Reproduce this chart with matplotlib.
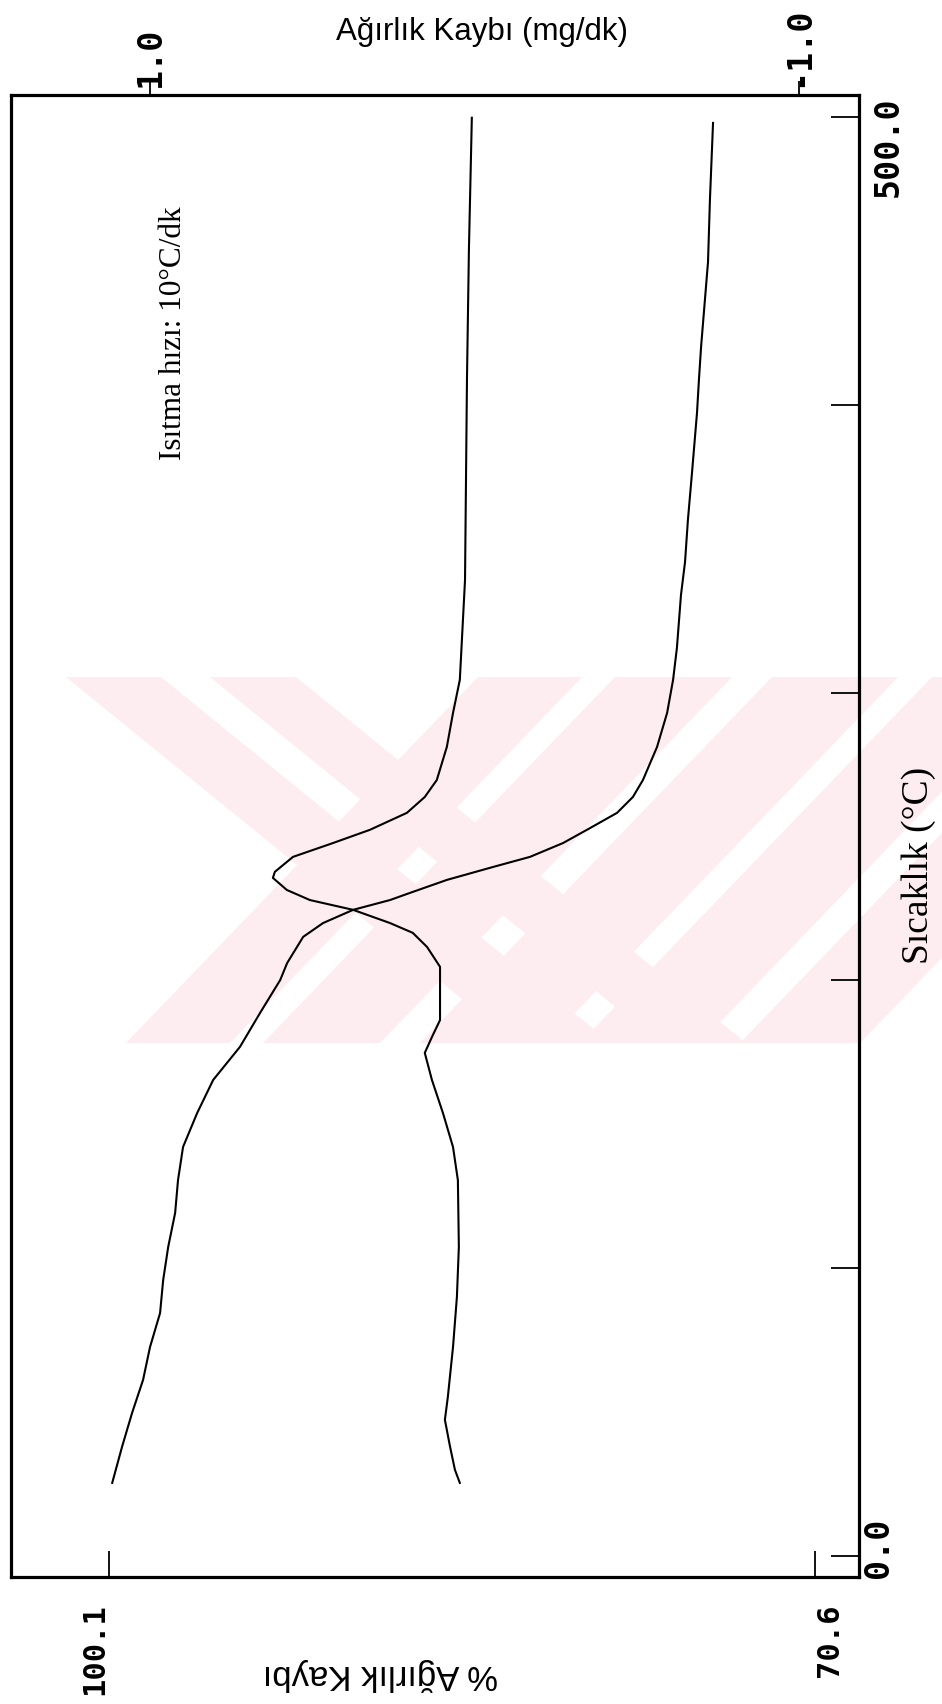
import matplotlib
matplotlib.use("Agg")
import matplotlib.pyplot as plt
from matplotlib.patches import Polygon
from matplotlib.transforms import offset_copy

# TGA curve: temperature (C) vs. remaining mass (%)
tga_temp = [25.4, 37.9, 49.7, 61.2, 72.6, 84.4, 95.9, 107.4, 119.2, 130.6,
            142.1, 153.9, 165.4, 176.9, 188.7, 200.1, 206.0, 215.1, 219.9, 224.5,
            227.9, 230.4, 234.9, 239.4, 242.9, 247.7, 252.3, 258.2, 263.7, 269.6,
            281.1, 292.9, 304.4, 315.5, 333.9, 345.4, 360.0, 376.3, 397.2, 408.6,
            420.1, 449.6, 471.2, 497.9]
tga_mass = [99.97, 99.56, 99.14, 98.68, 98.39, 97.97, 97.84, 97.63, 97.34, 97.22,
            97.01, 96.42, 95.75, 94.63, 93.79, 92.95, 92.66, 91.99, 91.16, 89.90,
            88.36, 87.52, 85.98, 84.05, 82.51, 81.13, 80.13, 78.87, 78.21, 77.79,
            77.20, 76.78, 76.53, 76.37, 76.20, 76.03, 75.91, 75.74, 75.53, 75.45,
            75.36, 75.07, 74.99, 74.86]

# DTG curve: temperature (C) vs. mass loss rate (mg/dk)
dtg_temp = [25.4, 29.9, 37.9, 47.3, 55.2, 72.6, 90.0, 107.4, 130.6, 142.1,
            153.9, 165.4, 174.8, 180.3, 186.2, 204.7, 211.6, 216.5, 219.9, 224.5,
            227.9, 231.4, 235.6, 237.7, 242.9, 247.7, 252.3, 258.2, 263.7, 269.6,
            281.1, 292.9, 304.4, 339.1, 408.6, 453.8, 499.7]
dtg_rate = [0.045, 0.060, 0.075, 0.091, 0.082, 0.066, 0.054, 0.048, 0.051, 0.066,
            0.097, 0.131, 0.153, 0.131, 0.106, 0.106, 0.146, 0.190, 0.260, 0.374,
            0.507, 0.578, 0.621, 0.615, 0.559, 0.436, 0.322, 0.208, 0.153, 0.116,
            0.085, 0.066, 0.045, 0.029, 0.023, 0.017, 0.008]

mass_ticks = [100.1, 70.6]
mass_labels = ["100.1", "70.6"]
rate_ticks = [1.0, -1.0]
rate_labels = ["1.0", "-1.0"]
temp_ticks = [0, 100, 200, 300, 400, 500]

W, H = 942, 1704
fig = plt.figure(figsize=(W / 100, H / 100), dpi=100)
fig.patch.set_facecolor("white")


def fxy(px, py):
    return (px / W, 1 - py / H)


# faint pink archive stamp behind the plot
pink = "#fdedf0"
y_top, y_bot = 677, 1043
back_stripes = [(66, 161), (210, 296)]  # "\" stripes, x on the top edge
fwd_stripes = [(126, 230), (263, 380), (420, 546), (580, 700), (740, 860)]  # "/" stripes, x on the bottom edge
for a, b in back_stripes:
    pts = [fxy(a, y_top), fxy(b, y_top), fxy(b + 450, y_bot), fxy(a + 450, y_bot)]
    fig.add_artist(Polygon(pts, closed=True, transform=fig.transFigure,
                           facecolor=pink, edgecolor="none", zorder=-5))
for a, b in fwd_stripes:
    pts = [fxy(a, y_bot), fxy(b, y_bot), fxy(b + 352, y_top), fxy(a + 352, y_top)]
    fig.add_artist(Polygon(pts, closed=True, transform=fig.transFigure,
                           facecolor=pink, edgecolor="none", zorder=-5))

ax = fig.add_axes([11 / W, 1 - 1577 / H, 848 / W, 1482 / H])
ax.patch.set_visible(False)
ax.set_xlim(104.2, 68.76)
ax.set_ylim(-7.3, 507.6)

ax2 = ax.twiny()
ax2.patch.set_visible(False)
ax2.set_xlim(1.428, -1.185)

ax.plot(tga_mass, tga_temp, color="black", lw=1.5)
ax2.plot(dtg_rate, dtg_temp, color="black", lw=1.5)

for s in ax.spines.values():
    s.set_linewidth(2.3)
for s in ax2.spines.values():
    s.set_visible(False)

mono = dict(family="DejaVu Sans Mono", weight="bold", size=24)

# mass axis along the bottom
ax.set_xticks(mass_ticks)
ax.set_xticklabels(mass_labels, fontdict=dict(mono, size=22))
ax.tick_params(axis="x", bottom=True, top=False, direction="in", length=19,
               width=1.3, pad=19, labelrotation=90)
labs = ax.get_xticklabels()
labs[0].set_horizontalalignment("right")
labs[1].set_horizontalalignment("left")

# temperature axis along the right side
ax.set_yticks(temp_ticks)
ax.tick_params(axis="y", left=False, right=True, labelleft=False, labelright=False,
               direction="in", length=20, width=1.3)
ytr = ax.get_yaxis_transform()
ax.text(1, temp_ticks[-1], "500.0", rotation=90, ha="center", va="top",
        transform=offset_copy(ytr, fig=fig, x=29, y=20, units="dots"), **mono)
ax.text(1, temp_ticks[0], "0.0", rotation=90, ha="center", va="bottom",
        transform=offset_copy(ytr, fig=fig, x=19, y=-22, units="dots"), **mono)

# rate axis along the top
ax2.set_xticks(rate_ticks)
ax2.set_xticklabels(rate_labels, fontdict=mono)
ax2.tick_params(axis="x", top=True, bottom=False, labeltop=True, labelbottom=False,
                direction="out", length=10, width=1.3, pad=-4, labelrotation=90)

ax.text(0.555, 1.0425, "Ağırlık Kaybı (mg/dk)", transform=ax.transAxes,
        ha="center", va="center", fontsize=22.5, family="Liberation Sans")
ax.text(0.436, -0.0655, "% Ağırlık Kaybı", transform=ax.transAxes, rotation=180,
        ha="center", va="center", fontsize=25, family="Liberation Sans")
ax.text(1.0708, 0.4804, "Sıcaklık (°C)", transform=ax.transAxes, rotation=90,
        ha="center", va="center", fontsize=27, family="Liberation Serif")
ax.text(0.1922, 0.8394, "Isıtma hızı: 10°C/dk", transform=ax.transAxes, rotation=90,
        ha="center", va="center", fontsize=22.5, family="Liberation Serif")

fig.savefig("out.png", dpi=100)
